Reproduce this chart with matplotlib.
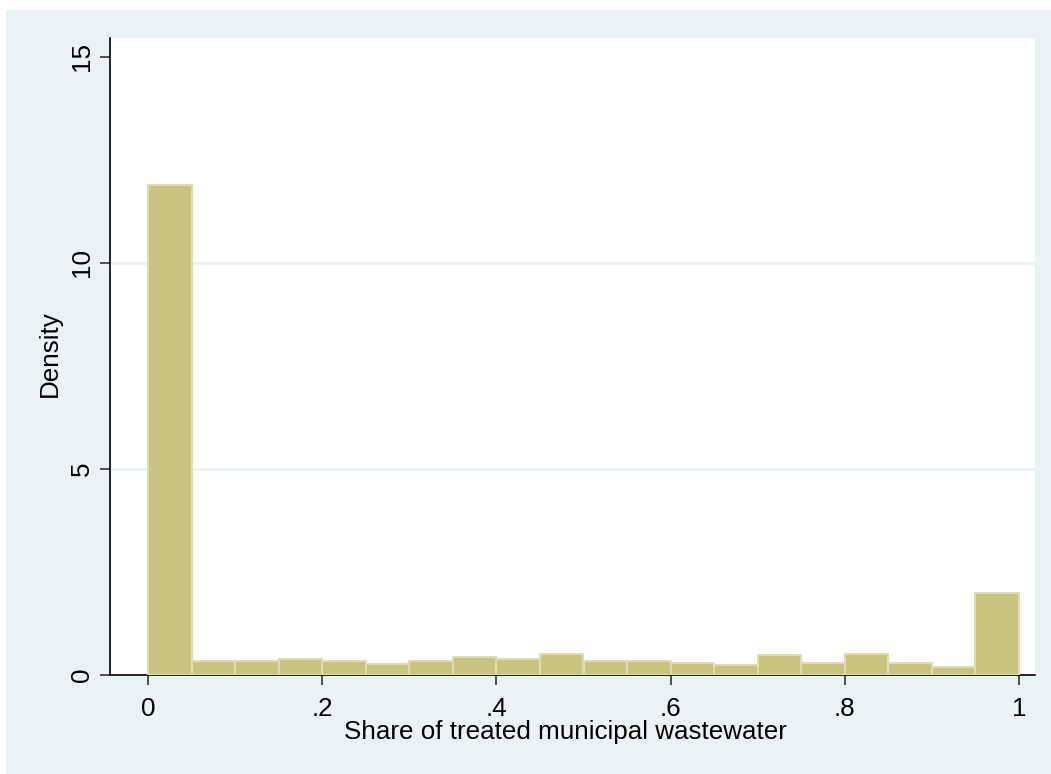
import numpy as np
import matplotlib
matplotlib.use("Agg")
import matplotlib.pyplot as plt
from matplotlib.patches import Rectangle

# histogram densities, bin width 0.05 from 0 to 1
density = [11.90, 0.34, 0.34, 0.39, 0.35, 0.26, 0.35, 0.43, 0.40, 0.52,
           0.33, 0.35, 0.30, 0.24, 0.48, 0.30, 0.52, 0.30, 0.20, 2.00]
bin_width = 0.05
xticks = [0, 0.2, 0.4, 0.6, 0.8, 1]
xtick_labels = ["0", ".2", ".4", ".6", ".8", "1"]
yticks = [0, 5, 10, 15]

bg = "#eaf2f3"
fs = 18.7
plt.rcParams['font.family'] = ['Liberation Sans', 'DejaVu Sans']

fig = plt.figure(figsize=(10.51, 7.74), dpi=100, facecolor="white")
# outer graph region (Stata style)
fig.patches.append(Rectangle((6 / 1051, 0), 1, (774 - 10) / 774,
                             transform=fig.transFigure, facecolor=bg,
                             edgecolor="none", zorder=-10))

ax = fig.add_axes([110 / 1051, (774 - 675) / 774, 925 / 1051, 637 / 774])
ax.set_facecolor("white")

lefts = np.arange(len(density)) * bin_width
ax.bar(lefts, density, width=bin_width, align="edge",
       color="#c9c380", edgecolor="#e0dcad", linewidth=1.5, zorder=3)

for g in [5, 10]:
    ax.axhline(g, color=bg, linewidth=2, zorder=1)

ax.set_xlim(-38 / 871, 1 + 16 / 871)
ax.set_ylim(0, 637 / 41.2)

ax.set_xticks(xticks)
ax.set_xticklabels(xtick_labels, fontsize=fs)
ax.set_yticks(yticks)
ax.set_yticklabels([str(t) for t in yticks], fontsize=fs, rotation=90, va="center")
ax.tick_params(direction="out", length=7.2, width=1.2, color="#333333")
ax.tick_params(axis="x", pad=8.5)
ax.tick_params(axis="y", pad=4.5)

for s in ["top", "right"]:
    ax.spines[s].set_visible(False)
for s in ["left", "bottom"]:
    ax.spines[s].set_linewidth(1.2)
    ax.spines[s].set_color("black")

ax.set_xlabel("Share of treated municipal wastewater", fontsize=fs, va="center")
ax.xaxis.set_label_coords(0.492, (675 - 732) / 637)
ax.set_ylabel("Density", fontsize=fs, va="center")
ax.yaxis.set_label_coords((50 - 110) / 925, (675 - 354) / 637)

fig.savefig("out.png", dpi=100, facecolor="white")
